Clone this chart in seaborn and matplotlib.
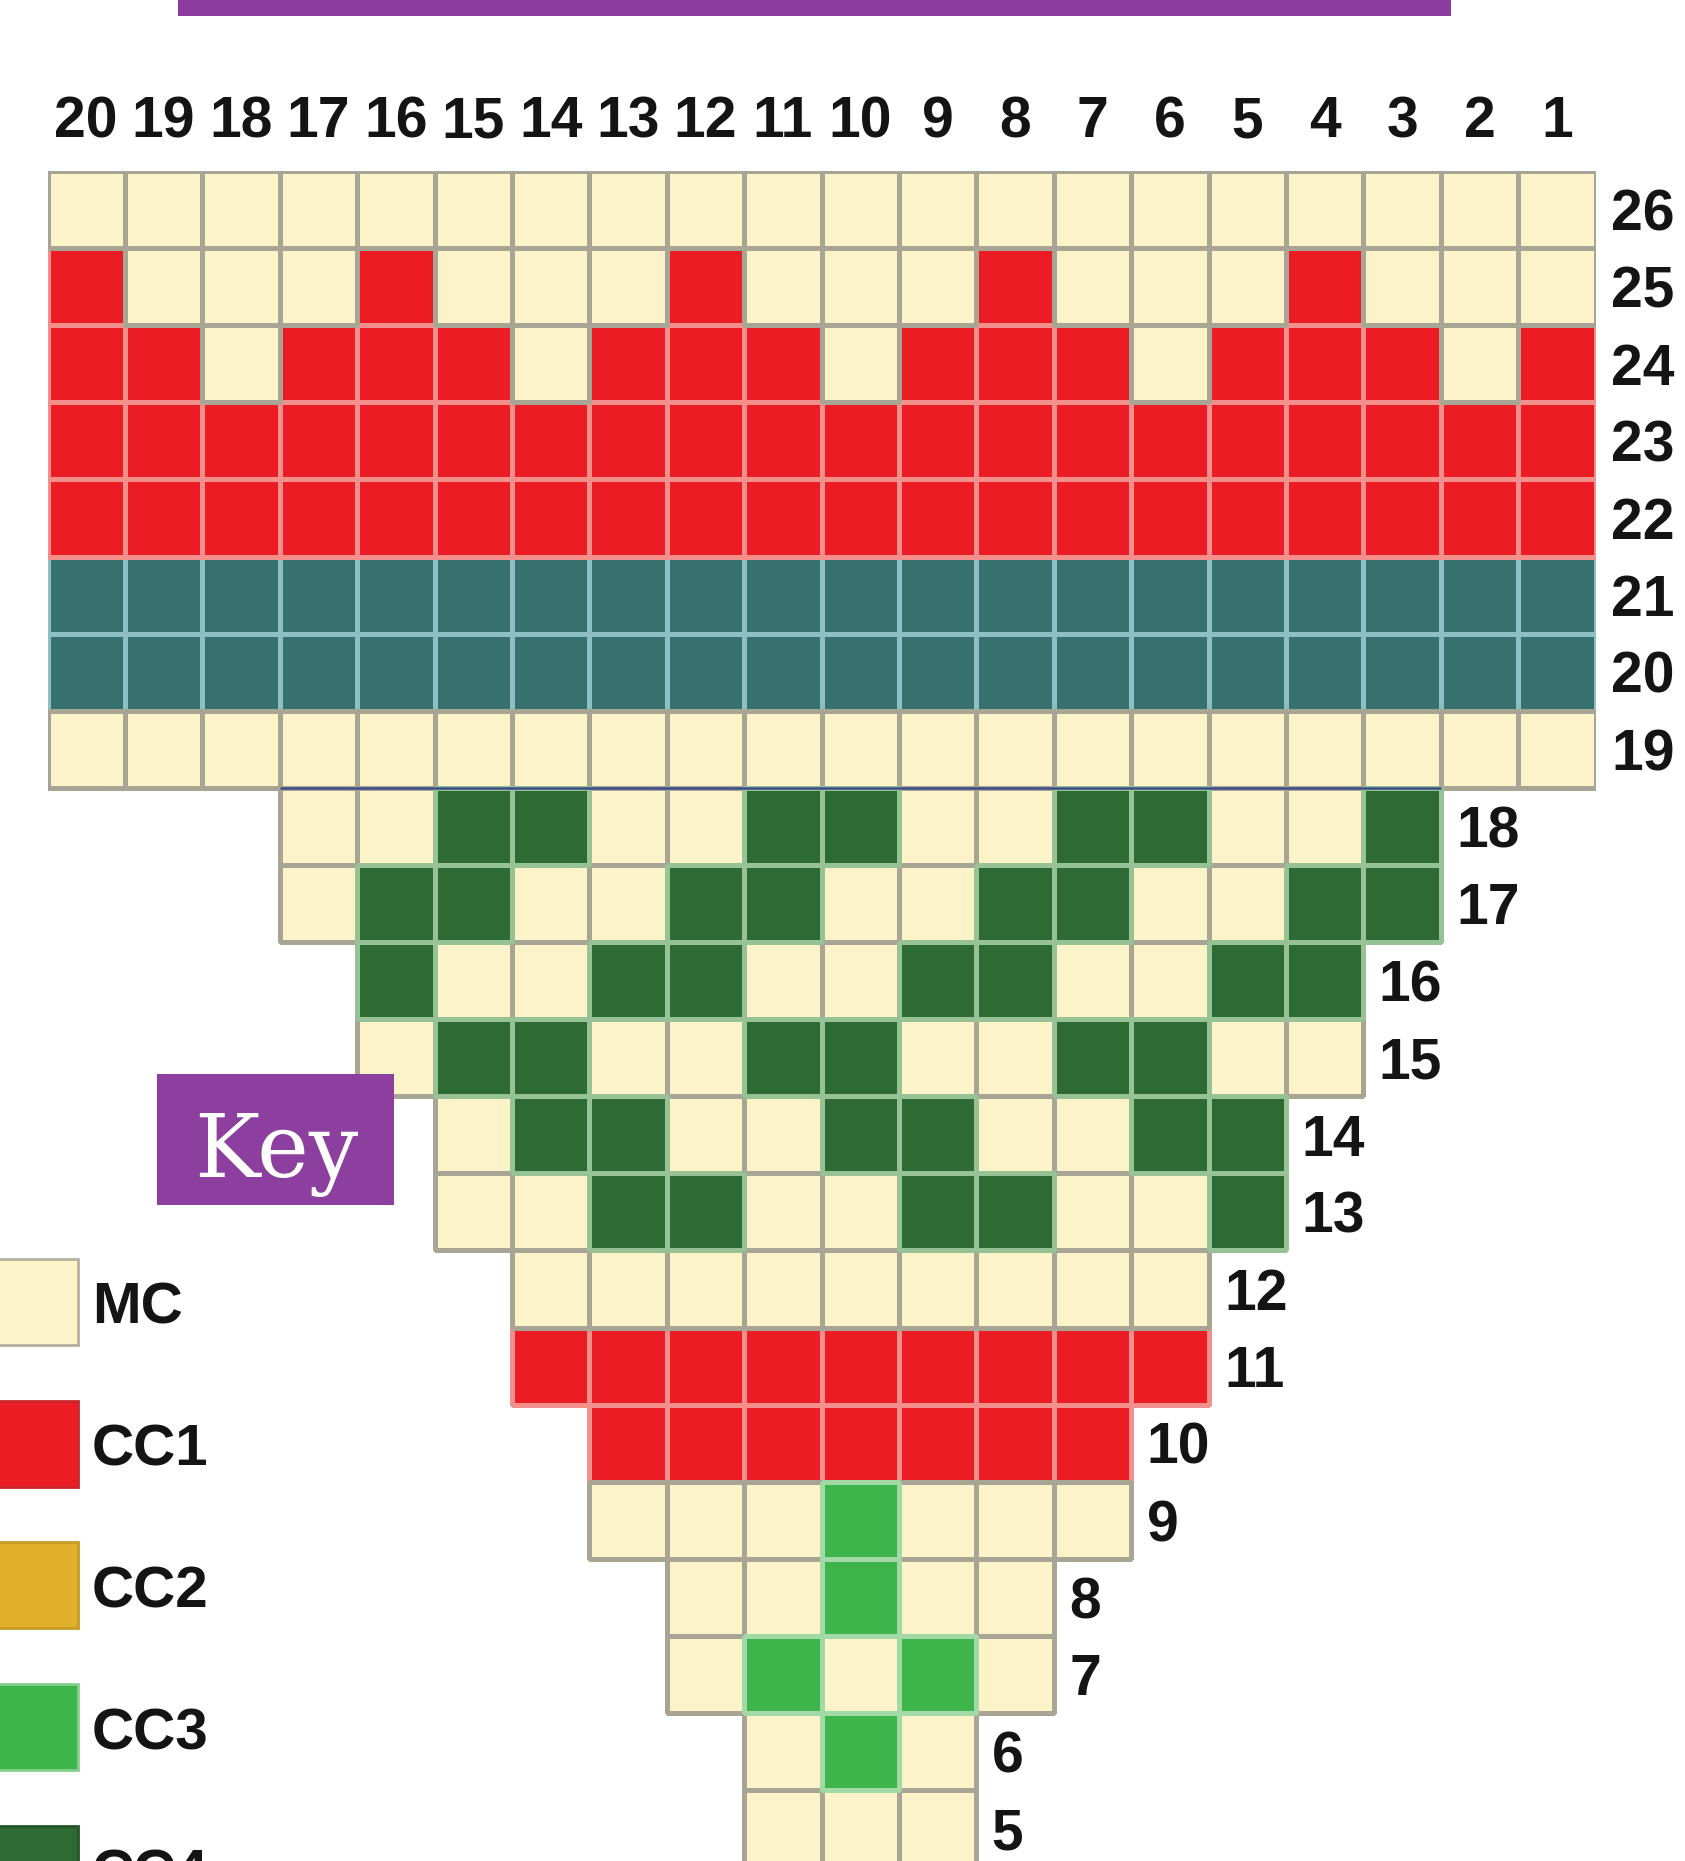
import numpy as np
import matplotlib
matplotlib.use("Agg")
import matplotlib.pyplot as plt
from matplotlib.colors import ListedColormap, to_rgba
from matplotlib.patches import Rectangle
import seaborn as sns

# ---------------- data ----------------
col_labels = list(range(20, 0, -1))          # stitch numbers, left to right
row_labels = list(range(26, 4, -1))          # row numbers, top to bottom
chart_rows = [
    "MMMMMMMMMMMMMMMMMMMM",  # 26
    "RMMMRMMMRMMMRMMMRMMM",  # 25
    "RRMRRRMRRRMRRRMRRRMR",  # 24
    "RRRRRRRRRRRRRRRRRRRR",  # 23
    "RRRRRRRRRRRRRRRRRRRR",  # 22
    "TTTTTTTTTTTTTTTTTTTT",  # 21
    "TTTTTTTTTTTTTTTTTTTT",  # 20
    "MMMMMMMMMMMMMMMMMMMM",  # 19
    "...MMGGMMGGMMGGMMG..",  # 18
    "...MGGMMGGMMGGMMGG..",  # 17
    "....GMMGGMMGGMMGG...",  # 16
    "....MGGMMGGMMGGMM...",  # 15
    ".....MGGMMGGMMGG....",  # 14
    ".....MMGGMMGGMMG....",  # 13
    "......MMMMMMMMM.....",  # 12
    "......RRRRRRRRR.....",  # 11
    ".......RRRRRRR......",  # 10
    ".......MMMLMMM......",  # 9
    "........MMLMM.......",  # 8
    "........MLMLM.......",  # 7
    ".........MLM........",  # 6
    ".........MMM........",  # 5
]
key_names = ["MC", "CC1", "CC2", "CC3", "CC4"]
key_colors = ["#FDF3C8", "#EC1C24", "#E1B12C", "#3DB54A", "#2E6A33"]
teal_color = "#37716F"

# ---------------- styling ----------------
W, H = 1685, 1861
code_of = {"M": 0, "R": 1, "Y": 2, "L": 3, "G": 4, "T": 5}
fills = {0: key_colors[0], 1: key_colors[1], 2: key_colors[2],
         3: key_colors[3], 4: key_colors[4], 5: teal_color}
edges = {0: "#A9A594", 1: "#F3908B", 2: "#EDD07A", 3: "#A3D9A6",
         4: "#96C295", 5: "#8DBFC4"}
draw_order = [5, 1, 0, 2, 4, 3]
swatch_edges = ["#B5B19E", "#C9262B", "#C99A25", "#86CF8C", "#24552A"]

from matplotlib import font_manager
installed = {f.name for f in font_manager.fontManager.ttflist}
sans = "Liberation Sans" if "Liberation Sans" in installed else "DejaVu Sans"

grid = np.full((len(chart_rows), len(col_labels)), np.nan)
for i, row in enumerate(chart_rows):
    for j, ch in enumerate(row):
        if ch != ".":
            grid[i, j] = code_of[ch]

fig = plt.figure(figsize=(W / 100, H / 100), dpi=100)
fig.patch.set_facecolor("white")

top_px, cell_h = 171, 77.1
ax = fig.add_axes([47.5 / W, 0, 1548 / W, (H - top_px) / H])
for code in draw_order:
    sel = (grid == code)
    if not np.any(sel):
        continue
    sns.heatmap(grid, mask=~sel, cmap=ListedColormap([fills[code]]),
                vmin=code - 0.5, vmax=code + 0.5, linewidths=2.2,
                linecolor=edges[code], cbar=False, xticklabels=False,
                yticklabels=False, ax=ax)
    mesh = ax.collections[-1]
    ec = np.array([to_rgba(edges[code]) if s else (0, 0, 0, 0)
                   for s in sel.ravel()])
    mesh.set_edgecolor(ec)
ax.set_xlim(0, len(col_labels))
ax.set_ylim((H - top_px) / cell_h, 0)
ax.set_facecolor("none")
for s in ax.spines.values():
    s.set_visible(False)

# navy rule under row 19 (above the narrower section)
ax.hlines(8, 3, 18, colors="#3B4E8C", linewidth=1.8, zorder=5)

# column numbers
for j, lab in enumerate(col_labels):
    ax.text(j + 0.5, -0.44, str(lab), ha="center", va="baseline",
            fontsize=41, fontweight="bold", family=sans, color="#141414",
            clip_on=False)

# row numbers at the end of each row
for i, (lab, row) in enumerate(zip(row_labels, chart_rows)):
    last = max(k for k, ch in enumerate(row) if ch != ".")
    ax.text(last + 1 + 0.2, i + 0.5 + 0.27, str(lab), ha="left", va="baseline",
            fontsize=41, fontweight="bold", family=sans, color="#141414",
            clip_on=False)

# ---------------- overlay: banner, key ----------------
ov = fig.add_axes([0, 0, 1, 1])
ov.set_xlim(0, W)
ov.set_ylim(H, 0)
ov.axis("off")

ov.add_patch(Rectangle((178, -10), 1273, 26, facecolor="#8B3C9E",
                       edgecolor="none"))
ov.add_patch(Rectangle((157, 1074), 237, 131, facecolor="#8C3F9F",
                       edgecolor="none", zorder=5))
ov.text(276, 1177, "Key", ha="center", va="baseline", fontsize=63,
        family="DejaVu Serif", color="white", zorder=6)

for k, (name, color) in enumerate(zip(key_names, key_colors)):
    y0 = 1259 + k * 141.7
    ov.add_patch(Rectangle((-6, y0), 84, 86, facecolor=color,
                           edgecolor=swatch_edges[k], linewidth=2, zorder=4))
    ov.text(92, y0 + 65, name, ha="left", va="baseline", fontsize=42,
            fontweight="bold", family=sans, color="#141414", zorder=4)

fig.savefig("out.png", dpi=100)
